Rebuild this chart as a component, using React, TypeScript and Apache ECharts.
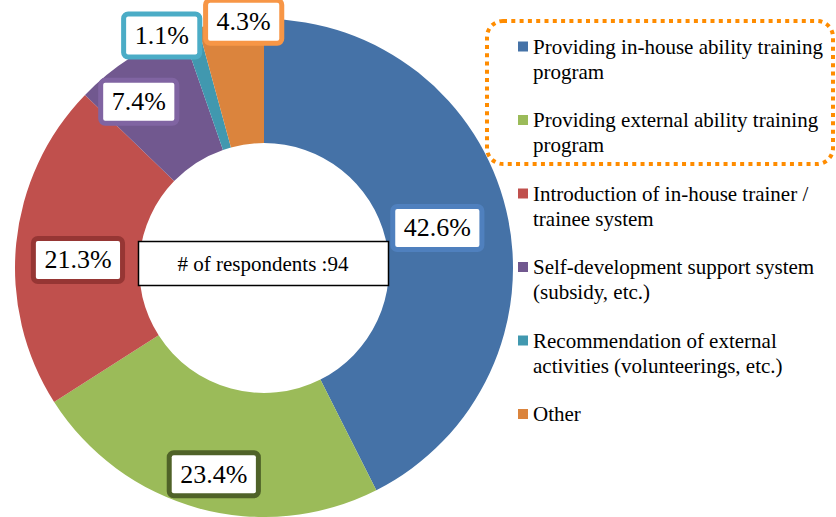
import React, { useEffect, useRef } from 'react';
import * as echarts from 'echarts';

const categories = [
  'Providing in-house ability training program',
  'Providing external ability training program',
  'Introduction of in-house trainer / trainee system',
  'Self-development support system (subsidy, etc.)',
  'Recommendation of external activities (volunteerings, etc.)',
  'Other',
];
const legendLines = [
  ['Providing in-house ability training', 'program'],
  ['Providing external ability training', 'program'],
  ['Introduction of in-house trainer /', 'trainee system'],
  ['Self-development support system', '(subsidy, etc.)'],
  ['Recommendation of external', 'activities (volunteerings, etc.)'],
  ['Other'],
];
const respondents = [40, 22, 20, 7, 1, 4];
const totalRespondents = 94;
const centerText = '# of respondents :94';

const sliceColors = ['#4572A7', '#9BBB59', '#C0504D', '#71588F', '#4198AF', '#DB843D'];
const labelBorderColors = ['#4F80BE', '#4F6228', '#963634', '#8064A2', '#4BACC6', '#F79646'];
const labelNudge = [
  [-11.5, 4],
  [0, 23],
  [3, 11],
  [-23, -6],
  [-46, -51],
  [5, -58],
];

const FONT = 'Liberation Serif';

export default function App() {
  const ref = useRef<HTMLDivElement>(null);
  useEffect(() => {
    if (!ref.current) return;
    const chart = echarts.init(ref.current, undefined, { renderer: 'svg' });
    const rich: any = {
      t: { fontFamily: FONT, fontSize: 21, lineHeight: 25, color: '#000', padding: [0, 0, 0, 5] },
      s: { width: 10, height: 10 },
    };
    sliceColors.forEach((c, i) => {
      rich['m' + i] = { width: 10, height: 10, backgroundColor: c };
    });
    const option: any = {
      animation: false,
      backgroundColor: '#fff',
      textStyle: { fontFamily: FONT },
      legend: {
        orient: 'vertical',
        left: 513,
        top: 34,
        padding: 0,
        itemGap: 23.5,
        icon: 'none',
        itemWidth: 0,
        itemHeight: 0,
        selectedMode: false,
        data: categories,
        formatter: (name: string) => {
          const i = categories.indexOf(name);
          return legendLines[i]
            .map((l, j) => (j === 0 ? `{m${i}|}{t|${l}}` : `{s|}{t|${l}}`))
            .join('\n');
        },
        textStyle: { fontFamily: FONT, fontSize: 21, lineHeight: 25, color: '#000', rich },
      },
      graphic: [
        {
          type: 'rect',
          shape: { x: 487, y: 21, width: 346, height: 143, r: 16 },
          style: { fill: 'none', stroke: '#FF8C00', lineWidth: 4, lineDash: [4, 4.3] },
          z: 10,
        },
        {
          type: 'rect',
          shape: { x: 138.5, y: 241.5, width: 250, height: 44 },
          style: { fill: '#fff', stroke: '#000', lineWidth: 1.5 },
          z: 10,
        },
        {
          type: 'text',
          x: 263,
          y: 263.5,
          style: {
            text: centerText,
            fontFamily: FONT,
            fontSize: 21,
            fill: '#000',
            align: 'center',
            verticalAlign: 'middle',
          },
          z: 11,
        },
      ],
      series: [
        {
          type: 'pie',
          center: [264, 268],
          radius: [125, 249],
          startAngle: 90,
          clockwise: true,
          avoidLabelOverlap: false,
          label: {
            show: true,
            position: 'inside',
            formatter: (p: any) => ((p.value / totalRespondents) * 100).toFixed(1) + '%',
            fontFamily: FONT,
            fontSize: 26,
            lineHeight: 30,
            color: '#000',
            backgroundColor: '#fff',
            borderWidth: 5,
            borderRadius: 2,
            padding: [4, 8.5],
          },
          labelLine: { show: false },
          labelLayout: (params: any) => ({
            dx: labelNudge[params.dataIndex][0],
            dy: labelNudge[params.dataIndex][1],
          }),
          emphasis: { disabled: true },
          data: categories.map((name, i) => ({
            name,
            value: respondents[i],
            itemStyle: { color: sliceColors[i] },
            label: { borderColor: labelBorderColors[i] },
          })),
        },
      ],
    };
    chart.setOption(option);
    return () => chart.dispose();
  }, []);
  return (
    <div
      ref={ref}
      style={{ position: 'fixed', left: 0, top: 0, width: 836, height: 517 }}
    />
  );
}
